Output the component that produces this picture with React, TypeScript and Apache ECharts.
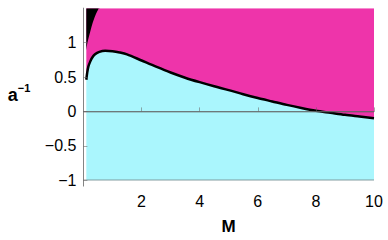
import React, { useEffect, useRef } from 'react';
import * as echarts from 'echarts';

const curveM = [0.1, 0.13, 0.17, 0.23, 0.3, 0.4, 0.55, 0.75, 1.0, 1.25, 1.5, 2.0, 2.5, 3.0, 3.5, 4.0, 4.5, 5.0, 5.5, 6.0, 6.5, 7.0, 7.5, 8.0, 8.5, 9.0, 9.5, 10];
const curveA = [0.46, 0.56, 0.65, 0.72, 0.78, 0.83, 0.865, 0.88, 0.875, 0.857, 0.83, 0.74, 0.65, 0.565, 0.49, 0.425, 0.365, 0.31, 0.25, 0.195, 0.145, 0.095, 0.05, 0.01, -0.02, -0.05, -0.075, -0.1];
const blackM = [0.1, 0.13, 0.18, 0.23, 0.3, 0.38, 0.46, 0.56];
const blackA = [0.88, 0.98, 1.07, 1.15, 1.26, 1.36, 1.44, 1.52];
const xTickValues = [2, 4, 6, 8, 10];
const yTickValues = [-1, -0.5, 0, 0.5, 1];
const refLines = [0, -1];

const MAGENTA = '#EE34AA';
const CYAN = '#AAF6FD';
const FRAME = 'rgba(100,100,100,0.55)';
const FONT = 'Liberation Sans';

export default function App() {
  const ref = useRef<HTMLDivElement>(null);
  useEffect(() => {
    document.body.style.margin = '0';
    const chart = echarts.init(ref.current!, null, { renderer: 'svg' });
    const curve = curveM.map((m, i) => [m, curveA[i]]);
    const black = blackM.map((m, i) => [m, blackA[i]]);
    const xMin = 0, xMax = 10, yMin = -1.084, yMax = 1.5;
    const fmt = (v: number) => (v < 0 ? '\u2212' + String(-v) : String(v));
    const SM = 0.3;
    chart.setOption({
      animation: false,
      textStyle: { fontFamily: FONT },
      grid: { left: 83.4, right: 14, top: 8.2, bottom: 53.5 },
      xAxis: [
        {
          type: 'value', min: xMin, max: xMax, z: 10,
          name: 'M', nameLocation: 'middle', nameGap: 32,
          nameTextStyle: { fontFamily: FONT, fontWeight: 'bold', fontSize: 17, color: '#000' },
          axisLine: { show: true, lineStyle: { color: FRAME, width: 1 } },
          axisTick: { show: true, inside: true, length: 4, customValues: xTickValues, lineStyle: { color: FRAME } },
          axisLabel: { customValues: xTickValues, color: '#000', fontSize: 16, margin: 7, fontFamily: FONT },
          splitLine: { show: false },
        },
        {
          type: 'value', min: xMin, max: xMax, position: 'top', z: 10,
          axisLine: { show: true, lineStyle: { color: FRAME, width: 1 } },
          axisTick: { show: false }, axisLabel: { show: false }, splitLine: { show: false },
        },
      ],
      yAxis: [
        {
          type: 'value', min: yMin, max: yMax, z: 10,
          name: '{a|a}{s|\u22121}', nameLocation: 'middle', nameRotate: 0, nameGap: 53,
          nameTextStyle: {
            color: '#000',
            padding: [0, 0, 8, 0],
            rich: {
              a: { fontFamily: FONT, fontWeight: 'bold', fontSize: 18, verticalAlign: 'bottom', lineHeight: 22 },
              s: { fontFamily: FONT, fontWeight: 'bold', fontSize: 11, verticalAlign: 'top', lineHeight: 22 },
            },
          },
          axisLine: { show: true, lineStyle: { color: FRAME, width: 1 } },
          axisTick: { show: true, inside: true, length: 4, customValues: yTickValues, lineStyle: { color: FRAME } },
          axisLabel: { customValues: yTickValues, formatter: fmt, color: '#000', fontSize: 16, margin: 7, fontFamily: FONT },
          splitLine: { show: false },
        },
        {
          type: 'value', min: yMin, max: yMax, position: 'right', z: 10,
          axisLine: { show: true, lineStyle: { color: FRAME, width: 1 } },
          axisTick: { show: false }, axisLabel: { show: false }, splitLine: { show: false },
        },
      ],
      series: [
        {
          type: 'line', data: curve, symbol: 'none', smooth: SM, z: 1,
          lineStyle: { width: 0 }, areaStyle: { color: MAGENTA, opacity: 1, origin: 'end' }, silent: true,
        },
        {
          type: 'line', data: black, symbol: 'none', smooth: SM, z: 2,
          lineStyle: { width: 0 }, areaStyle: { color: '#000', opacity: 1, origin: 'end' }, silent: true,
        },
        {
          type: 'line', data: curve, symbol: 'none', smooth: SM, z: 3,
          lineStyle: { width: 0 }, areaStyle: { color: CYAN, opacity: 1, origin: -1 }, silent: true,
          markLine: {
            silent: true, symbol: 'none', label: { show: false },
            lineStyle: { color: 'rgba(90,90,90,0.38)', width: 1.5, type: 'solid' },
            data: refLines.map((v) => ({ yAxis: v })),
          },
        },
        {
          type: 'line', data: curve, symbol: 'none', smooth: SM, z: 4,
          lineStyle: { width: 2.5, color: '#000' }, silent: true,
        },
      ],
    });
    return () => chart.dispose();
  }, []);
  return <div ref={ref} style={{ width: 388, height: 240 }} />;
}
